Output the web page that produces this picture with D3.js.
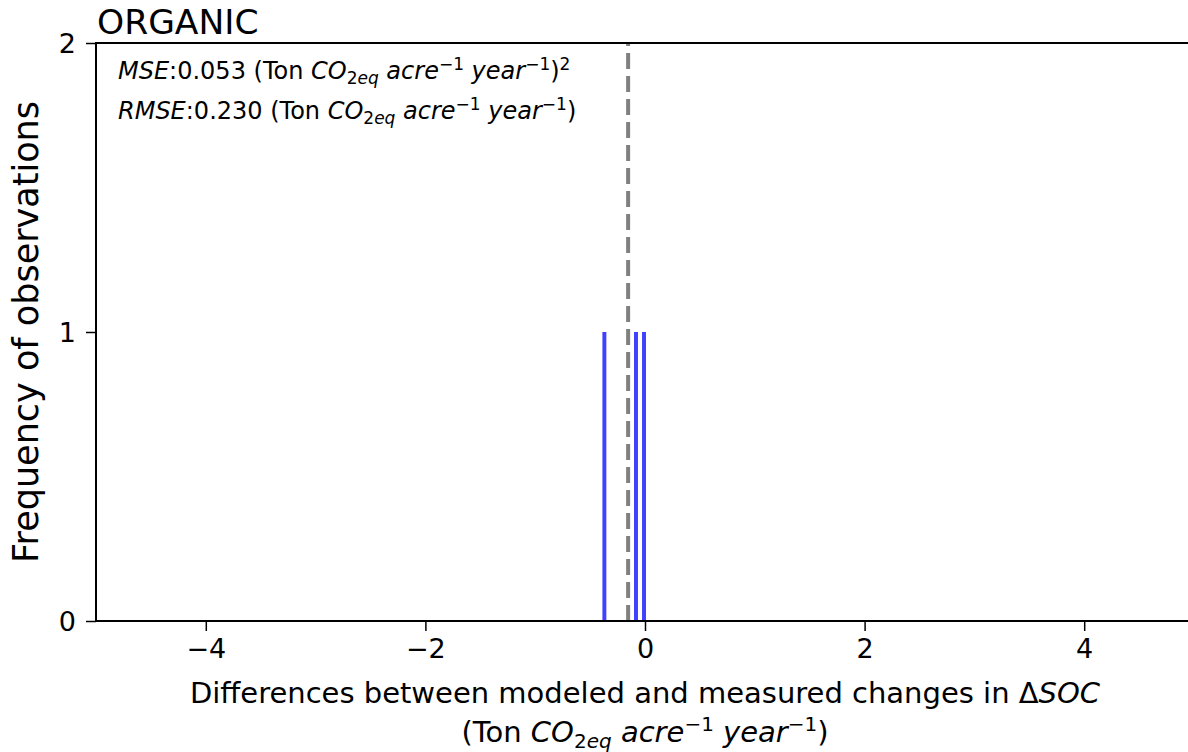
<!DOCTYPE html>
<html>
<head>
<meta charset="utf-8">
<script src="https://cdn.jsdelivr.net/npm/d3@7"></script>
<style>
  body { margin: 0; background: #fff; }
  svg { display: block; font-family: "DejaVu Sans", sans-serif; }
</style>
</head>
<body>
<script>
// histogram of model - measured differences (one obs per bin)
const diffValues = [-0.37, -0.082, -0.009];
const diffCounts = [1, 1, 1];
const binWidth = 0.036;

const xTicks = [-4, -2, 0, 2, 4];
const yTicks = [0, 1, 2];

const title = "ORGANIC";
const mseValue = "0.053";
const rmseValue = "0.230";

const W = 1188, H = 752;
const m = { left: 96, top: 43, bottom: 621, right: 1194 };

const svg = d3.select("body").append("svg")
  .attr("width", W)
  .attr("height", H);

const x = d3.scaleLinear().domain([-5, 5]).range([m.left, m.right]);
const y = d3.scaleLinear().domain([0, 2]).range([m.bottom, m.top]);

// bars
svg.append("g").selectAll("rect")
  .data(diffValues.map((v, i) => ({ v: v, c: diffCounts[i] })))
  .enter().append("rect")
  .attr("x", d => x(d.v - binWidth / 2))
  .attr("width", d => x(d.v + binWidth / 2) - x(d.v - binWidth / 2))
  .attr("y", d => y(d.c))
  .attr("height", d => y(0) - y(d.c))
  .attr("fill", "blue")
  .attr("fill-opacity", 0.75);

// mean line
const meanDiff = d3.mean(diffValues);
svg.append("line")
  .attr("x1", x(meanDiff)).attr("x2", x(meanDiff))
  .attr("y1", y(0)).attr("y2", y(2))
  .attr("stroke", "#808080")
  .attr("stroke-width", 4)
  .attr("stroke-dasharray", "16,7");

// axes
const xAxis = svg.append("g")
  .attr("transform", `translate(0,${m.bottom})`)
  .call(d3.axisBottom(x).tickValues(xTicks).tickSize(10).tickPadding(8));
const yAxis = svg.append("g")
  .attr("transform", `translate(${m.left},0)`)
  .call(d3.axisLeft(y).tickValues(yTicks).tickFormat(d3.format("d")).tickSize(10).tickPadding(10));

[xAxis, yAxis].forEach(g => {
  g.select(".domain").remove();
  g.selectAll("line").attr("stroke", "#000").attr("stroke-width", 1.5);
  g.selectAll("text").attr("fill", "#000").attr("font-size", 27)
    .attr("font-family", "DejaVu Sans");
});
yAxis.selectAll("text").attr("dy", "0.36em");

// spines: left, bottom, top (right one falls off the picture)
const spines = svg.append("g").attr("stroke", "#000").attr("stroke-width", 2);
spines.append("line").attr("x1", m.left).attr("x2", m.left).attr("y1", m.top).attr("y2", m.bottom);
spines.append("line").attr("x1", m.left - 1).attr("x2", m.right).attr("y1", m.bottom).attr("y2", m.bottom);
spines.append("line").attr("x1", m.left - 1).attr("x2", m.right).attr("y1", m.top).attr("y2", m.top);

// title
svg.append("text")
  .attr("x", m.left + 1).attr("y", 34)
  .attr("font-size", 34.5)
  .text(title);

// helper for the mathtext-like unit pieces
function unitParts(t, size) {
  const sub = Math.round(size * 0.7);
  t.append("tspan").text("(Ton ");
  t.append("tspan").attr("font-style", "italic").text("CO");
  t.append("tspan").attr("font-size", sub).attr("dy", size * 0.22).text("2");
  t.append("tspan").attr("font-size", sub).attr("font-style", "italic").text("eq");
  t.append("tspan").attr("dy", -size * 0.22).attr("font-style", "italic").text(" acre");
  t.append("tspan").attr("font-size", sub).attr("dy", -size * 0.38).text("−1");
  t.append("tspan").attr("dy", size * 0.38).attr("font-style", "italic").text(" year");
  t.append("tspan").attr("font-size", sub).attr("dy", -size * 0.38).text("−1");
  t.append("tspan").attr("dy", size * 0.38).text(")");
}

const annSize = 24;
const t1 = svg.append("text").attr("x", 118).attr("y", 79).attr("font-size", annSize);
t1.append("tspan").attr("font-style", "italic").text("MSE");
t1.append("tspan").text(":" + mseValue + " ");
unitParts(t1, annSize);
t1.append("tspan").attr("font-size", Math.round(annSize * 0.7)).attr("dy", -annSize * 0.38).text("2");

const t2 = svg.append("text").attr("x", 118).attr("y", 119).attr("font-size", annSize);
t2.append("tspan").attr("font-style", "italic").text("RMSE");
t2.append("tspan").text(":" + rmseValue + " ");
unitParts(t2, annSize);

// axis labels
const cx = (m.left + m.right) / 2;
const xl1 = svg.append("text")
  .attr("x", cx).attr("y", 703)
  .attr("text-anchor", "middle")
  .attr("font-size", 29);
xl1.append("tspan").text("Differences between modeled and measured changes in Δ");
xl1.append("tspan").attr("font-style", "italic").text("SOC");

const xl2 = svg.append("text")
  .attr("x", cx).attr("y", 742)
  .attr("text-anchor", "middle")
  .attr("font-size", 29);
unitParts(xl2, 29);

svg.append("text")
  .attr("transform", `translate(38,${(m.top + m.bottom) / 2}) rotate(-90)`)
  .attr("text-anchor", "middle")
  .attr("font-size", 35)
  .text("Frequency of observations");
</script>
</body>
</html>
